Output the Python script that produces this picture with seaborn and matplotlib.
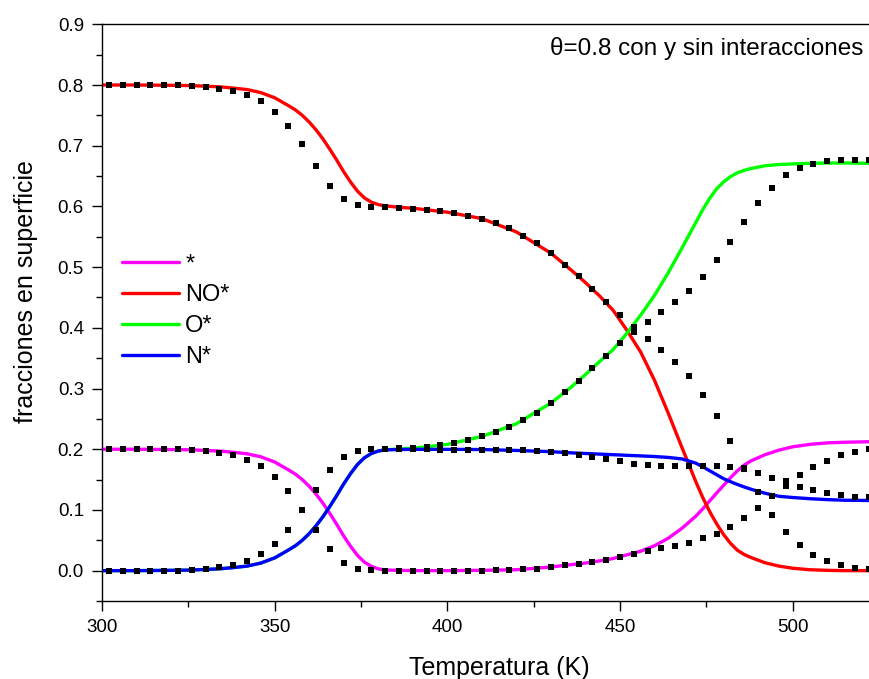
import matplotlib
matplotlib.use("Agg")
import matplotlib.pyplot as plt
import pandas as pd
import seaborn as sns
from matplotlib.ticker import MultipleLocator, FormatStrFormatter

# Species and their colours (interacting model drawn as solid lines)
species = ["*", "NO*", "O*", "N*"]
colors = {"*": "#FF00FF", "NO*": "#FF0000", "O*": "#00FF00", "N*": "#0000FF"}

# ---- with interactions (solid lines) ----
T_line = [300, 310, 320, 326, 330, 334, 338, 342, 346, 350,
          354, 356, 358, 360, 362, 364, 366, 368, 370, 372,
          374, 376, 378, 380, 382, 386, 390, 400, 410, 420,
          430, 436, 440, 444, 448, 452, 456, 460, 464, 468,
          472, 474, 476, 478, 480, 482, 484, 486, 488, 492,
          496, 500, 505, 510, 515, 523]

star_line = [0.200, 0.200, 0.1995, 0.199, 0.198, 0.197, 0.195, 0.1925, 0.1875, 0.179,
             0.166, 0.159, 0.150, 0.139, 0.126, 0.111, 0.094, 0.076, 0.057, 0.040,
             0.025, 0.014, 0.007, 0.003, 0.001, 0.0005, 0.000, 0.000, 0.0005, 0.0015,
             0.006, 0.010, 0.0125, 0.016, 0.020, 0.026, 0.032, 0.041, 0.0535, 0.070,
             0.090, 0.102, 0.115, 0.128, 0.1405, 0.153, 0.1645, 0.174, 0.181, 0.191,
             0.1985, 0.204, 0.208, 0.2105, 0.2115, 0.2125]

no_line = [0.800, 0.800, 0.7995, 0.799, 0.798, 0.797, 0.795, 0.7925, 0.7875, 0.779,
           0.766, 0.759, 0.750, 0.739, 0.726, 0.711, 0.694, 0.676, 0.657, 0.640,
           0.625, 0.614, 0.607, 0.603, 0.601, 0.5985, 0.597, 0.5905, 0.580, 0.558,
           0.523, 0.4945, 0.4745, 0.453, 0.429, 0.396, 0.360, 0.3135, 0.259, 0.202,
           0.146, 0.120, 0.097, 0.077, 0.0595, 0.045, 0.0336, 0.0265, 0.0215, 0.013,
           0.0075, 0.004, 0.0015, 0.0005, 0.000, 0.000]

o_line = [0.000, 0.000, 0.0005, 0.001, 0.002, 0.003, 0.005, 0.0075, 0.0125, 0.021,
          0.034, 0.041, 0.050, 0.061, 0.074, 0.089, 0.106, 0.124, 0.143, 0.160,
          0.175, 0.186, 0.193, 0.197, 0.199, 0.2005, 0.2015, 0.208, 0.221, 0.242,
          0.276, 0.303, 0.323, 0.344, 0.364, 0.391, 0.421, 0.4535, 0.491, 0.532,
          0.574, 0.595, 0.6135, 0.629, 0.6405, 0.649, 0.6555, 0.6595, 0.6625, 0.667,
          0.669, 0.670, 0.671, 0.6715, 0.6715, 0.671]

n_line = [0.000, 0.000, 0.0005, 0.001, 0.002, 0.003, 0.005, 0.0075, 0.0125, 0.021,
          0.034, 0.041, 0.050, 0.061, 0.074, 0.089, 0.106, 0.124, 0.143, 0.160,
          0.175, 0.186, 0.193, 0.197, 0.199, 0.1995, 0.1998, 0.1998, 0.1995, 0.198,
          0.196, 0.194, 0.193, 0.192, 0.191, 0.190, 0.189, 0.188, 0.1865, 0.184,
          0.177, 0.171, 0.1645, 0.158, 0.1515, 0.1465, 0.142, 0.1378, 0.134, 0.1275,
          0.1225, 0.1205, 0.1185, 0.117, 0.116, 0.1155]

# ---- without interactions (black squares) ----
T_sq = list(range(302, 523, 4))

star_sq = [0.200, 0.200, 0.200, 0.200, 0.200, 0.200, 0.199, 0.197, 0.194, 0.190,
           0.183, 0.173, 0.155, 0.132, 0.100, 0.067, 0.035, 0.012, 0.002, 0.001,
           0.000, 0.000, 0.000, 0.000, 0.000, 0.000, 0.000, 0.000, 0.001, 0.001,
           0.002, 0.003, 0.006, 0.009, 0.011, 0.014, 0.018, 0.023, 0.028, 0.033,
           0.038, 0.041, 0.046, 0.053, 0.060, 0.072, 0.087, 0.104, 0.123, 0.140,
           0.157, 0.170, 0.181, 0.190, 0.196, 0.200]

no_sq = [0.800, 0.800, 0.800, 0.800, 0.800, 0.800, 0.799, 0.797, 0.794, 0.790,
         0.783, 0.773, 0.755, 0.732, 0.702, 0.667, 0.634, 0.612, 0.602, 0.599,
         0.599, 0.598, 0.596, 0.594, 0.592, 0.589, 0.585, 0.580, 0.572, 0.564,
         0.552, 0.539, 0.523, 0.504, 0.485, 0.464, 0.442, 0.421, 0.401, 0.382,
         0.364, 0.343, 0.320, 0.290, 0.254, 0.213, 0.169, 0.129, 0.092, 0.063,
         0.042, 0.026, 0.016, 0.009, 0.004, 0.002]

o_sq = [0.000, 0.000, 0.000, 0.000, 0.000, 0.000, 0.001, 0.003, 0.006, 0.009,
        0.016, 0.027, 0.044, 0.067, 0.100, 0.133, 0.166, 0.188, 0.197, 0.200,
        0.200, 0.202, 0.202, 0.204, 0.207, 0.210, 0.215, 0.221, 0.228, 0.236,
        0.248, 0.260, 0.276, 0.294, 0.313, 0.333, 0.354, 0.375, 0.393, 0.410,
        0.426, 0.442, 0.461, 0.484, 0.512, 0.542, 0.575, 0.606, 0.631, 0.651,
        0.663, 0.670, 0.674, 0.676, 0.676, 0.676]

n_sq = [0.000, 0.000, 0.000, 0.000, 0.000, 0.000, 0.001, 0.003, 0.006, 0.009,
        0.016, 0.027, 0.044, 0.067, 0.100, 0.133, 0.166, 0.188, 0.197, 0.200,
        0.200, 0.200, 0.200, 0.200, 0.1995, 0.1995, 0.1995, 0.199, 0.199, 0.1985,
        0.198, 0.197, 0.195, 0.1935, 0.191, 0.188, 0.184, 0.180, 0.1765, 0.174,
        0.1727, 0.172, 0.172, 0.173, 0.1727, 0.171, 0.168, 0.161, 0.153, 0.147,
        0.138, 0.133, 0.128, 0.1245, 0.122, 0.1206]

x_ticks = [300, 350, 400, 450, 500]
y_ticks = [0.0, 0.1, 0.2, 0.3, 0.4, 0.5, 0.6, 0.7, 0.8, 0.9]

line_vals = {"*": star_line, "NO*": no_line, "O*": o_line, "N*": n_line}
sq_vals = {"*": star_sq, "NO*": no_sq, "O*": o_sq, "N*": n_sq}

lines_df = pd.concat(
    [pd.DataFrame({"T": T_line, "frac": line_vals[s], "especie": s}) for s in species],
    ignore_index=True)
sq_df = pd.concat(
    [pd.DataFrame({"T": T_sq, "frac": sq_vals[s], "especie": s}) for s in species],
    ignore_index=True)

sns.set_theme(style="ticks")
plt.rcParams["font.family"] = ["Liberation Sans", "DejaVu Sans"]
plt.rcParams["text.color"] = "black"
plt.rcParams["axes.labelcolor"] = "black"

fig = plt.figure(figsize=(8.7, 6.79), dpi=100)
ax = fig.add_axes([102 / 870, 78 / 679, 768 / 870, 576.7 / 679])

sns.lineplot(data=lines_df, x="T", y="frac", hue="especie", hue_order=species,
             palette=colors, linewidth=2.4, sort=False, estimator=None, ax=ax)
for ln in ax.get_lines():
    ln.set_solid_joinstyle("round")
sns.scatterplot(data=sq_df, x="T", y="frac", color="black", marker="s", s=24,
                linewidth=0, legend=False, zorder=3, ax=ax)

ax.set_xlim(300, 522.4)
ax.set_ylim(-0.05, 0.9)
ax.set_xticks(x_ticks)
ax.set_yticks(y_ticks)
ax.xaxis.set_minor_locator(MultipleLocator(25))
ax.yaxis.set_minor_locator(MultipleLocator(0.05))
ax.yaxis.set_major_formatter(FormatStrFormatter("%.1f"))

for side in ["left", "bottom", "top"]:
    ax.spines[side].set_linewidth(1.0)
    ax.spines[side].set_color("black")
ax.spines["right"].set_visible(False)

ax.tick_params(which="major", direction="out", length=7, width=1.0,
               labelsize=13.5, pad=6, colors="black", top=False, right=False)
ax.tick_params(which="minor", direction="out", length=4, width=1.0,
               colors="black", top=False, right=False)

ax.set_xlabel("Temperatura (K)", fontsize=18, color="black")
ax.xaxis.set_label_coords(0.517, -0.128)
ax.xaxis.label.set_va("baseline")
ax.set_ylabel("fracciones en superficie", fontsize=18, color="black")
ax.yaxis.set_label_coords(-0.099, 0.536)
ax.yaxis.label.set_va("center")

ax.text(0.991, 0.9468, "θ=0.8 con y sin interacciones", transform=ax.transAxes,
        ha="right", va="baseline", fontsize=17.5, color="black")

handles, labels = ax.get_legend_handles_labels()
leg = ax.legend(handles, labels, loc="center left", bbox_to_anchor=(0.026, 0.5037),
                frameon=False, fontsize=17, handlelength=2.4, handletextpad=0.28,
                labelspacing=0.38, borderpad=0, borderaxespad=0)
for h in leg.get_lines():
    h.set_linewidth(2.4)
for t in leg.get_texts():
    t.set_color("black")

fig.savefig("out.png", dpi=100)
